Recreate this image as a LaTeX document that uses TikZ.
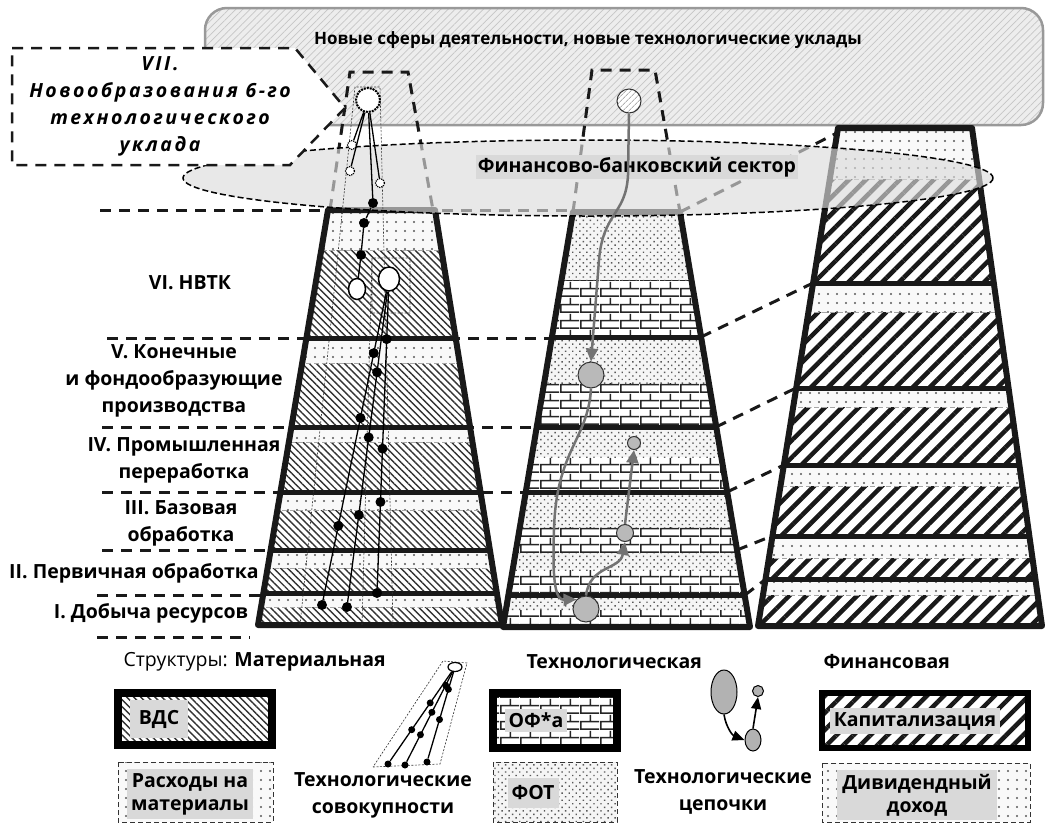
\documentclass[tikz,border=0pt]{standalone}
\usepackage{fontspec}
\setmainfont{Open Sans}
\newfontfamily\sparsefont[LetterSpace=13]{Open Sans}
\usetikzlibrary{patterns,patterns.meta,arrows.meta,shapes.geometric}

% brick wall for the technological structure
\pgfdeclarepatternformonly{brickwall}{\pgfpointorigin}{\pgfpoint{20pt}{16pt}}{\pgfpoint{20pt}{16pt}}{%
  \pgfsetlinewidth{1.6pt}%
  \pgfpathmoveto{\pgfpoint{0pt}{0.8pt}}\pgfpathlineto{\pgfpoint{20pt}{0.8pt}}%
  \pgfpathmoveto{\pgfpoint{0pt}{8.8pt}}\pgfpathlineto{\pgfpoint{20pt}{8.8pt}}%
  \pgfpathmoveto{\pgfpoint{0.8pt}{0.8pt}}\pgfpathlineto{\pgfpoint{0.8pt}{8.8pt}}%
  \pgfpathmoveto{\pgfpoint{10.8pt}{8.8pt}}\pgfpathlineto{\pgfpoint{10.8pt}{16pt}}%
  \pgfusepath{stroke}}

\tikzset{
  every node/.style={font=\fontsize{19.5}{27}\selectfont\bfseries},
  pyr/.style={line width=6pt, draw=black!90, line join=round},
  lvl/.style={line width=5pt, draw=black!90},
  guide/.style={line width=3pt, draw=black!90, dash pattern=on 11pt off 8pt},
  thinguide/.style={line width=0.6pt, draw=black!80, dash pattern=on 2pt off 1.5pt},
  bandline/.style={line width=0.8pt, draw=gray!70, dash pattern=on 5pt off 3pt},
  vds/.style={preaction={fill=white}, pattern={Lines[angle=-45,distance=5pt,line width=1.4pt]}, pattern color=black!80},
  rashod/.style={preaction={fill=gray!5}, pattern={Dots[distance=9pt,radius=1.1pt]}, pattern color=black!65},
  ofa/.style={preaction={fill=white}, pattern=brickwall, pattern color=black!85},
  fot/.style={preaction={fill=gray!8}, pattern={Dots[distance=5pt,radius=1pt,angle=45]}, pattern color=black!65},
  kap/.style={preaction={fill=white}, pattern={Lines[angle=45,distance=12pt,line width=4.5pt]}, pattern color=black!90},
  key/.style={fill=gray!30, inner sep=2pt},
  legkey/.style={fill=gray!30, inner sep=4pt, font=\fontsize{19.5}{23}\selectfont\bfseries},
  blackdot/.style={circle, fill=black, inner sep=0pt, minimum size=10pt},
  smalldot/.style={circle, fill=black, inner sep=0pt, minimum size=7pt},
  aggline/.style={line width=1.3pt, draw=black},
  chainball/.style={circle, draw=black!80, line width=1pt, fill=gray!55, inner sep=0pt},
  chainline/.style={line width=2.5pt, draw=black!55, -{Triangle[length=13pt,width=12pt]}},
}

\begin{document}
\begin{tikzpicture}[x=1pt,y=-1pt]
\useasboundingbox (0,0) rectangle (1047,825);

% new spheres
\path[draw=gray!80, line width=2.5pt, rounded corners=22pt, preaction={fill=gray!14},
  pattern={Lines[angle=45,distance=5pt,line width=0.7pt]}, pattern color=gray!45]
  (205,8) rectangle (1043,125);
\node[font=\fontsize{17}{20}\selectfont\bfseries] (newsph) at (588,40) {Новые сферы деятельности, новые технологические уклады};

% dashed continuations and level guides
\draw[guide] (330,210) -- (350,72) -- (408,72) -- (433,210);
\draw[guide] (573,212) -- (592,70) -- (655,70) -- (680,212);
\draw[guide] (100,210) -- (573,210);
\draw[guide] (107,338) -- (552,338);
\draw[guide] (102,427) -- (537,427);
\draw[guide] (102,492) -- (526,492);
\draw[guide] (102,550) -- (271,550);
\draw[guide] (97,595) -- (263,595);
\draw[guide] (97,637) -- (250,637);
\draw[guide] (680,212) -- (837,133);
\draw[guide] (701,337) -- (813,283);
\draw[guide] (716,427) -- (796,388);
\draw[guide] (727,492) -- (784,465);
\draw[guide] (737,550) -- (772,536);
\draw[guide] (745,595) -- (766,579);

% material pyramid
\begin{scope}
  \clip (328,210) -- (435,210) -- (502,625) -- (258,625) -- cycle;
  \fill[vds] (250,200) rectangle (510,630);
  \foreach \a/\b in {210/250,338/363,427/442,492/510,550/568,593/607}{
    \fill[rashod] (250,\a) rectangle (510,\b);
    \draw[bandline] (250,\b) -- (510,\b);}
  \foreach \y in {338,427,492,550,593} \draw[lvl] (250,\y) -- (510,\y);
\end{scope}
\draw[pyr] (328,210) -- (435,210) -- (502,625) -- (258,625) -- cycle;

% technological pyramid
\begin{scope}
  \clip (573,212) -- (680,212) -- (750,627) -- (503,627) -- cycle;
  \fill[ofa] (495,200) rectangle (760,630);
  \foreach \a/\b in {212/280,337/383,427/457,492/527,553/570,595/610}
    \fill[fot] (495,\a) rectangle (760,\b);
  \foreach \y in {337,427,492,595} \draw[lvl] (495,\y) -- (760,\y);
\end{scope}
\draw[pyr] (573,212) -- (680,212) -- (750,627) -- (503,627) -- cycle;

% financial pyramid
\begin{scope}
  \clip (838,128) -- (972,128) -- (1042,626) -- (758,626) -- cycle;
  \fill[kap] (750,120) rectangle (1047,630);
  \foreach \a/\b in {128/179,283/312,388/407,465/486,536/558,579/595}{
    \fill[rashod] (750,\a) rectangle (1047,\b);
    \draw[bandline] (750,\b) -- (1047,\b);}
  \foreach \y in {283,388,465,536,579} \draw[lvl] (750,\y) -- (1047,\y);
\end{scope}
\draw[pyr] (838,128) -- (972,128) -- (1042,626) -- (758,626) -- cycle;

% finance and banking
\fill[gray!28, fill opacity=0.65] (588,178) ellipse [x radius=405, y radius=38];
\draw[line width=1.5pt, dash pattern=on 6pt off 3pt] (588,178) ellipse [x radius=405, y radius=38];
\node[key] (fin) at (637,167) {Финансово-банковский сектор};

% technological aggregates
\draw[thinguide] (300,625) -- (355,87) -- (380,87) -- (393,625);
\draw[thinguide] (362,625) -- (372,258) rectangle (410,313);
\node[circle, draw, densely dotted, line width=2pt, fill=white, minimum size=24pt, inner sep=0pt] (t0) at (368,100) {};
\foreach \n/\p in {s1/{352,145}, s2/{350,171}, s3/{380,183}}
  \node[circle, draw, densely dotted, line width=1.2pt, fill=white, minimum size=9pt, inner sep=0pt] (\n) at (\p) {};
\node[blackdot] (d1) at (373,203) {};
\node[blackdot] (d2) at (364,223) {};
\node[blackdot] (d3) at (361,255) {};
\node[ellipse, draw, line width=1.5pt, fill=white, minimum width=17pt, minimum height=21pt, inner sep=0pt] (w1) at (357,289) {};
\node[ellipse, draw, line width=1.5pt, fill=white, minimum width=21pt, minimum height=24pt, inner sep=0pt] (w2) at (389,279) {};
\node[blackdot] (a4) at (322,605) {};
\node[blackdot] (b4) at (347,607) {};
\node[blackdot] (c4) at (377,593) {};
\draw[aggline] (t0) -- (s1) (t0) -- (s2) (t0) -- (s3);
\draw[aggline] (t0) -- (d1) -- (d2) -- (d3) -- (w1);
\draw[aggline] (w2) -- node[blackdot,pos=0.2] (a1) {} node[blackdot,pos=0.41] (a2) {} node[blackdot,pos=0.76] (a3) {} (a4);
\draw[aggline] (w2) -- node[blackdot,pos=0.26] (b1) {} node[blackdot,pos=0.47] (b2) {} node[blackdot,pos=0.72] (b3) {} (b4);
\draw[aggline] (w2) -- node[blackdot,pos=0.16] (c1) {} node[blackdot,pos=0.53] (c2) {} node[blackdot,pos=0.71] (c3) {} (c4);

% technological chains
\node[circle, draw=black!80, line width=1pt, preaction={fill=white},
  pattern={Lines[angle=45,distance=4pt,line width=1pt]}, pattern color=gray!60,
  minimum size=24pt, inner sep=0pt] (ch0) at (629,101) {};
\node[chainball, minimum size=26pt] (ch1) at (591,375) {};
\node[chainball, minimum size=26pt] (ch2) at (586,609) {};
\node[chainball, minimum size=17pt] (ch3) at (625,533) {};
\node[chainball, minimum size=13pt] (ch4) at (634,443) {};
\draw[chainline] (ch0.south) -- (628,175) .. controls (626,215) and (603,212) .. (599,260) -- (ch1.north);
\draw[chainline] (ch1.south) .. controls (588,440) and (556,450) .. (554,530) .. controls (552,585) and (556,600) .. (ch2.north west);
\draw[chainline] (ch2.north) .. controls (590,565) and (620,570) .. (ch3.south);
\draw[chainline] (ch3.north) -- (ch4.south);

% sixth technological order
\draw[guide, line width=2.5pt, fill=white] (12,48) -- (295,48) -- (345,108) -- (290,165) -- (12,165) -- cycle;
\node[align=center, font=\fontsize{19.5}{27}\selectfont\sparsefont\bfseries\itshape] (seven) at (160,106)
  {VII.\\Новообразования 6-го\\технологического\\уклада};

% levels
\node (lvl6) at (190,283) {VI. НВТК};
\node[align=center] (lvl5) at (174,381) {V. Конечные\\и фондообразующие\\производства};
\node[align=center] (lvl4) at (184,460) {IV. Промышленная\\переработка};
\node[align=center] (lvl3) at (181,523) {III. Базовая\\обработка};
\node (lvl2) at (134,573) {II. Первичная обработка};
\node (lvl1) at (151,613) {I. Добыча ресурсов};

% legend
\node[anchor=west] (strmat) at (120,662) {{\mdseries Структуры:} Материальная};
\node[anchor=west] (strtech) at (523,662) {Технологическая};
\node[anchor=west] (strfin) at (820,662) {Финансовая};

\draw[line width=8pt, vds] (118,693) rectangle (272,745);
\node[legkey, inner xsep=9pt, minimum height=38pt] (vdsk) at (159,719) {ВДС};
\draw[thinguide, line width=1pt, dash pattern=on 5pt off 3pt, rashod] (118,762) rectangle (273,822);
\node[legkey, align=center] (rashk) at (190,794) {Расходы на\\материалы};

\draw[line width=8pt, ofa] (493,693) rectangle (617,748);
\node[legkey] (ofak) at (536,720) {ОФ*а};
\draw[thinguide, line width=1pt, dash pattern=on 5pt off 3pt, fot] (493,762) rectangle (617,822);
\node[legkey, minimum height=30pt] (fotk) at (533,793) {ФОТ};

\draw[line width=6pt, kap] (822,693) rectangle (1028,748);
\node[legkey] (kapk) at (915,721) {Капитализация};
\draw[thinguide, line width=1pt, dash pattern=on 5pt off 3pt, rashod] (822,763) rectangle (1030,822);
\node[legkey, align=center, minimum width=160pt] (divk) at (917,795) {Дивидендный\\доход};

% legend: aggregates
\draw[thinguide] (373,767) -- (440,764) -- (467,663) -- (443,661) -- cycle;
\node[ellipse, draw, line width=1.2pt, fill=white, minimum width=14pt, minimum height=9pt, inner sep=0pt] (g0) at (455,667) {};
\node[smalldot] (g1) at (388,764) {};
\node[smalldot] (g2) at (405,765) {};
\node[smalldot] (g3) at (427,762) {};
\draw[aggline] (g0) -- node[smalldot,pos=0.35] (g11) {} node[smalldot,pos=0.65] (g12) {} (g1);
\draw[aggline] (g0) -- node[smalldot,pos=0.15] (g21) {} node[smalldot,pos=0.45] (g22) {} node[smalldot,pos=0.7] (g23) {} (g2);
\draw[aggline] (g0) -- node[smalldot,pos=0.2] (g31) {} node[smalldot,pos=0.55] (g32) {} (g3);
\node[align=center] (aggtxt) at (383,795) {Технологические\\совокупности};

% legend: chains
\node[ellipse, draw, line width=1pt, fill=gray!60, minimum width=26pt, minimum height=44pt, inner sep=0pt] (l1) at (724,692) {};
\node[ellipse, draw, line width=1pt, fill=gray!60, minimum width=16pt, minimum height=22pt, inner sep=0pt] (l2) at (753,740) {};
\node[circle, draw, line width=1pt, fill=gray!60, minimum size=11pt, inner sep=0pt] (l3) at (758,691) {};
\draw[line width=1.6pt, -{Triangle[length=12pt,width=10pt]}] (l1.south) to[bend right=30] (l2.west);
\draw[line width=1.6pt, -{Triangle[length=12pt,width=10pt]}] (l2.north) -- (l3.south);
\node[align=center] (chtxt) at (723,792) {Технологические\\цепочки};
\end{tikzpicture}
\end{document}
